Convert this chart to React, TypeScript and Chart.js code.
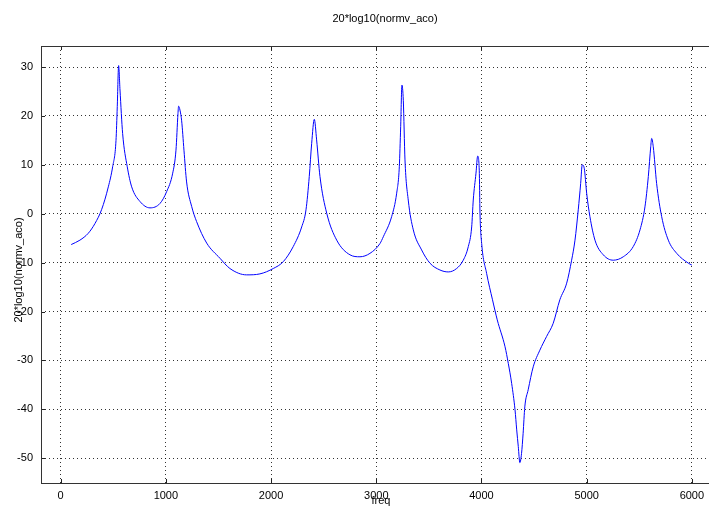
import React, { useEffect, useRef } from "react";
import { Chart, registerables } from "chart.js";

Chart.register(...registerables);

const chartTitle = "20*log10(normv_aco)";
const xLabel = "freq";
const yLabel = "20*log10(normv_aco)";

const freq = [
  100, 183, 262, 326, 390, 453, 494, 526, 538, 551, 564, 589, 633, 675, 754, 849, 944, 1007, 1065, 1096,
  1115, 1121, 1134, 1150, 1172, 1197, 1245, 1292, 1388, 1514, 1609, 1768, 1894, 2021, 2116, 2211, 2291,
  2332, 2363, 2386, 2411, 2433, 2465, 2529, 2624, 2750, 2845, 2940, 3035, 3067, 3146, 3194, 3219, 3232,
  3244, 3257, 3273, 3304, 3352, 3431, 3510, 3605, 3684, 3764, 3827, 3875, 3907, 3922, 3948, 3964, 3979,
  3986, 4002, 4049, 4105, 4150, 4224, 4255, 4287, 4319, 4335, 4350, 4365, 4381, 4396, 4412, 4444, 4492,
  4555, 4619, 4682, 4745, 4810, 4857, 4889, 4920, 4943, 4958, 4977, 5000, 5031, 5079, 5158, 5253, 5348,
  5443, 5507, 5554, 5586, 5609, 5618, 5633, 5665, 5713, 5776, 5856, 5966, 6000,
];

const dB = [
  -6.3, -5.4, -4.0, -2.0, 0.9, 5.5, 9.6, 15, 21.9, 30.3, 25.3, 16.4, 9.6, 5.5, 2.5, 1.2, 2.1, 4.5, 8.3, 13,
  20.5, 22.0, 21.2, 19.0, 13, 6.5, 1.5, -1.6, -6.0, -9.1, -11.2, -12.5, -12.3, -11.2, -9.8, -6.7, -2.7,
  0.8, 7.6, 14.4, 19.3, 15.1, 7.6, 0.1, -5.4, -8.4, -8.8, -8.1, -6.1, -4.7, -0.6, 4.2, 9.6, 17.8,
  26.3, 23.2, 11, 2.8, -3.3, -7.4, -10.1, -11.5, -11.9, -11.2, -9.5, -6.7, -2.7, 2.8, 8.3, 11.8, 8.9,
  0.1, -6.1, -12.2, -17.6, -21.7, -27.2, -30.6, -34.7, -40.1, -44.2, -47.6, -50.9, -49, -44.9, -39.5, -36, -31.3,
  -27.9, -25.1, -22.4, -17.6, -14.2, -9.5, -5.4, 0.8, 6.2, 10, 9.3, 4.2, -0.6, -5.4, -8.4, -9.5, -8.8,
  -6.7, -3.3, 1.4, 7.6, 13.7, 15.4, 13.7, 6.2, -0.6, -5.4, -8.1, -10.1, -10.5,
];

const xTicks = [0, 1000, 2000, 3000, 4000, 5000, 6000];
const yTicks = [30, 20, 10, 0, -10, -20, -30, -40, -50];

const FONT = '"Liberation Sans", Arial, Helvetica, sans-serif';

const matlabPlugin = {
  id: "matlabDecor",
  afterDraw(chart: any) {
    const ctx = chart.ctx;
    const { left, right, top, bottom } = chart.chartArea;
    const xs = chart.scales.x;
    const ys = chart.scales.y;
    ctx.save();
    ctx.strokeStyle = "#222";
    ctx.lineWidth = 1;
    ctx.beginPath();
    xTicks.forEach((v) => {
      const px = Math.round(xs.getPixelForValue(v)) + 0.5;
      ctx.moveTo(px, bottom);
      ctx.lineTo(px, bottom - 4);
      ctx.moveTo(px, top);
      ctx.lineTo(px, top + 4);
    });
    yTicks.forEach((v) => {
      const py = Math.round(ys.getPixelForValue(v)) + 0.5;
      ctx.moveTo(left, py);
      ctx.lineTo(left + 4, py);
      ctx.moveTo(right, py);
      ctx.lineTo(right - 4, py);
    });
    ctx.stroke();
    ctx.strokeStyle = "#333";
    ctx.strokeRect(Math.round(left) + 0.5, Math.round(top) + 0.5, Math.round(right - left), Math.round(bottom - top));
    ctx.fillStyle = "#000";
    ctx.font = "11px " + FONT;
    ctx.textAlign = "center";
    ctx.textBaseline = "middle";
    ctx.fillText(chartTitle, 385, 19);
    ctx.fillText(xLabel, 381, 501);
    ctx.translate(19, 270);
    ctx.rotate(-Math.PI / 2);
    ctx.fillText(yLabel, 0, 0);
    ctx.restore();
  },
};

export default function App() {
  const ref = useRef<HTMLCanvasElement>(null);
  useEffect(() => {
    const canvas = ref.current!;
    const points = freq.map((f, i) => ({ x: f, y: dB[i] }));
    const chart = new Chart(canvas, {
      type: "line",
      data: {
        datasets: [
          {
            data: points,
            borderColor: "#0000ff",
            borderWidth: 1,
            pointRadius: 0,
            tension: 0.4,
            cubicInterpolationMode: "monotone",
            fill: false,
          },
        ],
      },
      options: {
        animation: false,
        responsive: false,
        devicePixelRatio: 1,
        layout: { padding: { top: 46, right: 1, left: 0, bottom: 0 } },
        plugins: { legend: { display: false }, tooltip: { enabled: false }, title: { display: false } },
        scales: {
          x: {
            type: "linear",
            min: -187,
            max: 6353,
            afterBuildTicks: (s: any) => {
              s.ticks = xTicks.map((v) => ({ value: v }));
            },
            afterFit: (s: any) => {
              s.height = 23;
            },
            grid: { color: "rgba(0,0,0,0.8)", lineWidth: 1, drawTicks: false },
            border: { display: false, dash: [1, 3] },
            ticks: {
              color: "#000",
              font: { family: FONT, size: 11 },
              padding: 6,
              maxRotation: 0,
              autoSkip: false,
              callback: (v: any) => String(v),
            },
          },
          y: {
            type: "linear",
            min: -55.06,
            max: 34.3,
            afterBuildTicks: (s: any) => {
              s.ticks = yTicks.map((v) => ({ value: v }));
            },
            afterFit: (s: any) => {
              s.width = 41;
            },
            grid: { color: "rgba(0,0,0,0.8)", lineWidth: 1, drawTicks: false },
            border: { display: false, dash: [1, 3] },
            ticks: {
              color: "#000",
              font: { family: FONT, size: 11 },
              padding: 8,
              autoSkip: false,
              callback: (v: any) => String(v),
            },
          },
        },
      },
      plugins: [matlabPlugin],
    });
    return () => chart.destroy();
  }, []);
  return (
    <div style={{ position: "fixed", left: 0, top: 0, width: 709, height: 506, overflow: "hidden", background: "#fff" }}>
      <canvas ref={ref} width={730} height={506} style={{ width: 730, height: 506, display: "block" }} />
    </div>
  );
}
